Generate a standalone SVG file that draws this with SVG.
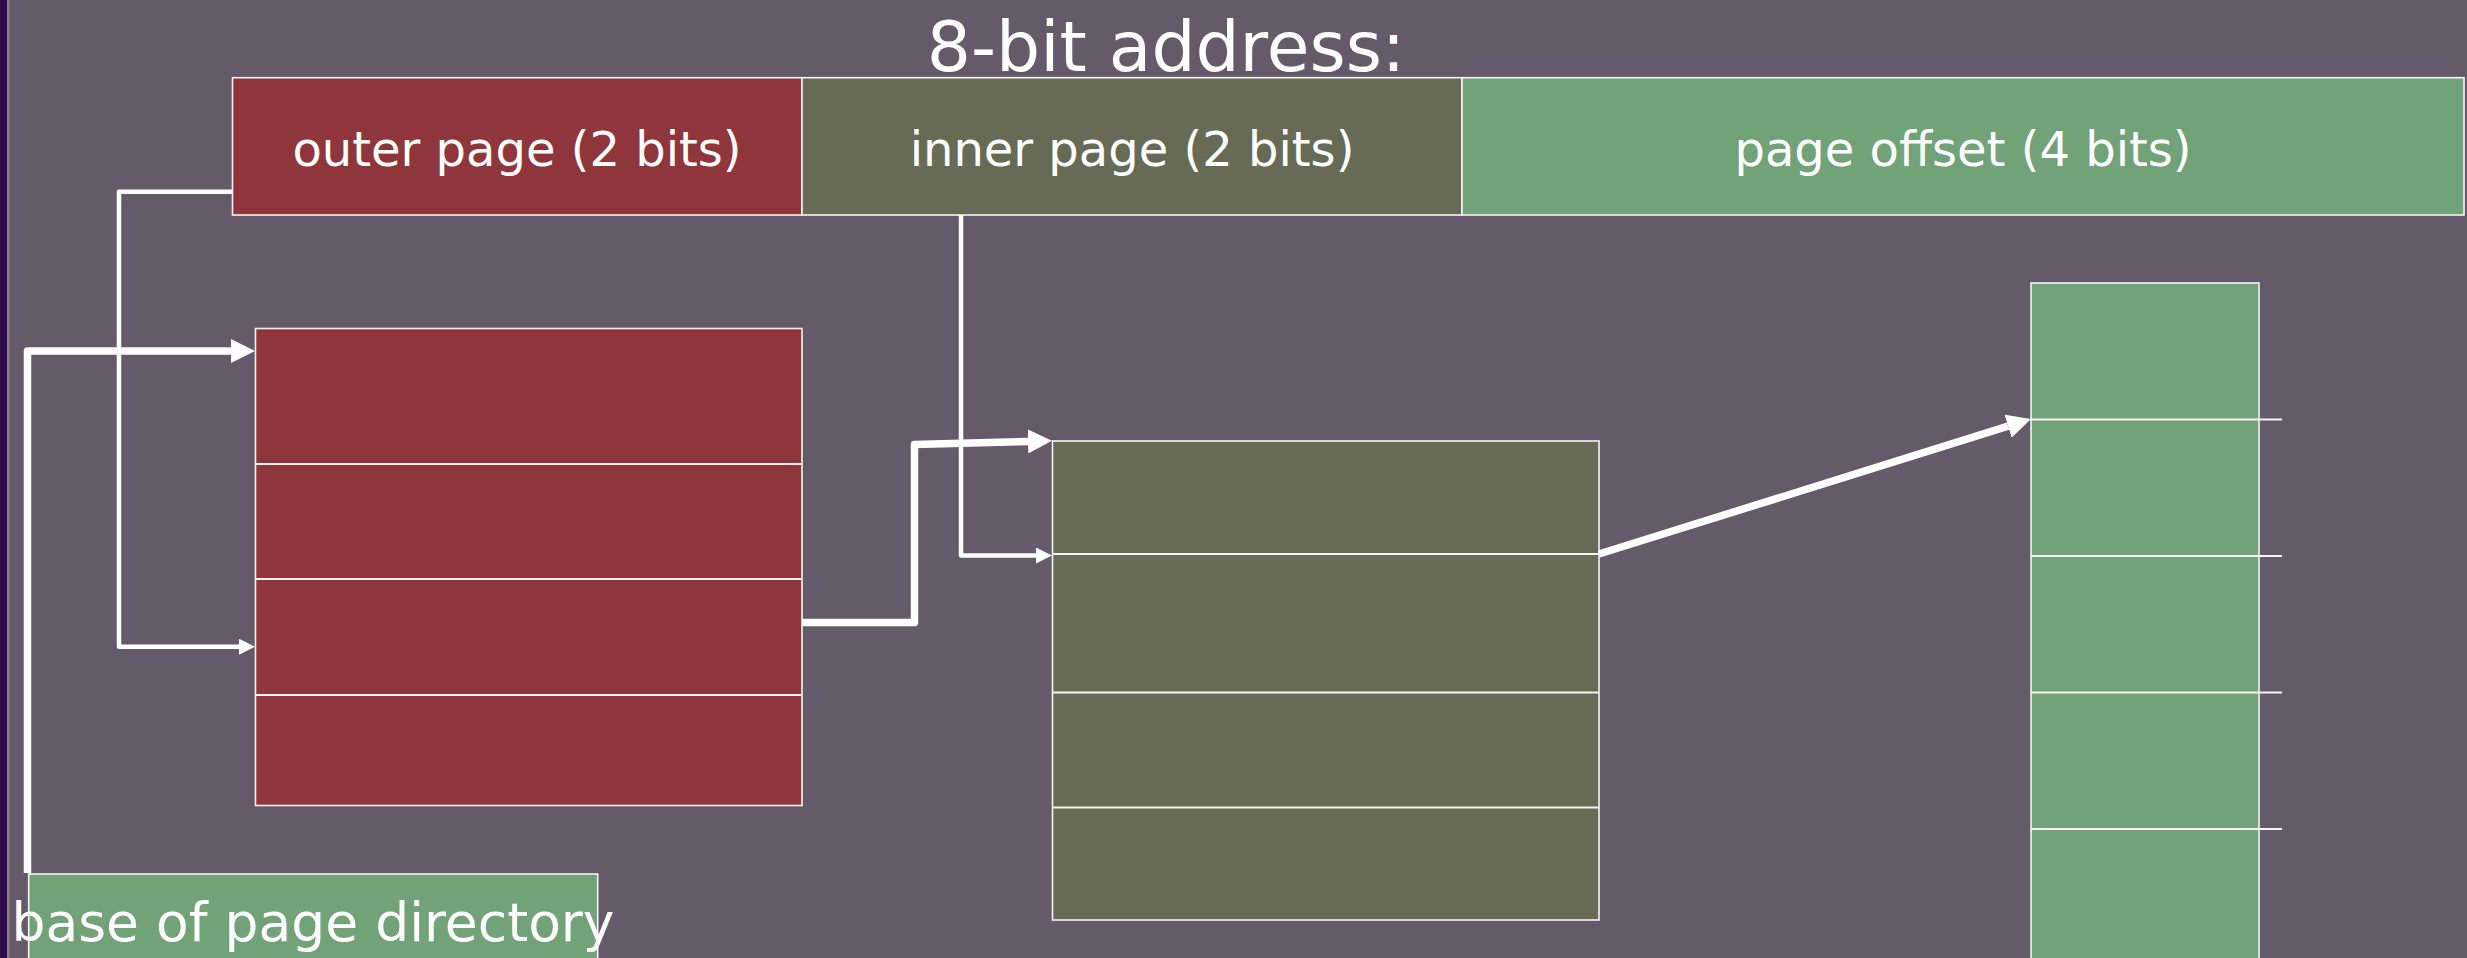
<svg xmlns="http://www.w3.org/2000/svg" width="2467" height="958" viewBox="0 0 2467 958">
<style>
.cell{stroke:#f4f4f4;stroke-width:1.6}
.red{fill:#8e363b}
.olive{fill:#676b55}
.green{fill:#72a278}
.div{stroke:#f4f4f4;stroke-width:1.8;fill:none}
.lbl{font-family:"DejaVu Sans",Verdana,sans-serif;fill:#ffffff;text-anchor:middle}
.thick{stroke:#ffffff;stroke-width:7.5;fill:none;stroke-linejoin:round}
.thin{stroke:#ffffff;stroke-width:4.5;fill:none;stroke-linejoin:round}
</style>
<defs>
<marker id="ahBig" markerUnits="userSpaceOnUse" markerWidth="24" markerHeight="24" viewBox="0 0 24 24" refX="0" refY="12" orient="auto">
<path d="M0,0 L24,12 L0,24 z" fill="#ffffff"/>
</marker>
<marker id="ahSmall" markerUnits="userSpaceOnUse" markerWidth="16" markerHeight="16" viewBox="0 0 16 16" refX="0" refY="8" orient="auto">
<path d="M0,0 L16,8 L0,16 z" fill="#ffffff"/>
</marker>
</defs>
<rect x="0" y="0" width="2467" height="958" fill="#655a6a"/>
<rect x="0" y="0" width="7" height="958" fill="#2d0b4b"/>
<rect x="7" y="0" width="2.5" height="958" fill="#857e89"/>

<text class="lbl" x="1166" y="71" font-size="69.5">8-bit address:</text>

<g id="address">
<rect class="cell red" x="232.5" y="77.7" width="569.5" height="137.3"/>
<rect class="cell olive" x="802" y="77.7" width="660" height="137.3"/>
<rect class="cell green" x="1462" y="77.7" width="1002" height="137.3"/>
<text class="lbl" x="517" y="166" font-size="48">outer page (2 bits)</text>
<text class="lbl" x="1132" y="166" font-size="48">inner page (2 bits)</text>
<text class="lbl" x="1963" y="166" font-size="48">page offset (4 bits)</text>
</g>

<g id="outer-table">
<rect class="cell red" x="255.5" y="328.5" width="546.5" height="477"/>
<path class="div" d="M255.5,464 H802 M255.5,579 H802 M255.5,695 H802"/>
</g>

<g id="inner-table">
<rect class="cell olive" x="1052.5" y="441" width="546.5" height="479"/>
<path class="div" d="M1052.5,554 H1599 M1052.5,692.5 H1599 M1052.5,807.5 H1599"/>
</g>

<g id="page-frame">
<rect class="cell green" x="2031" y="283" width="228" height="720"/>
<path class="div" d="M2031,419.5 H2282 M2031,556 H2282 M2031,692.5 H2282 M2031,829 H2282"/>
</g>

<g id="base">
<rect class="cell green" x="28.7" y="874" width="569" height="100"/>
<text class="lbl" x="313" y="941" font-size="53.5">base of page directory</text>
</g>

<g id="connectors">
<path class="thick" d="M27.5,873 L27.5,351 L231,351" marker-end="url(#ahBig)"/>
<path class="thin" d="M232,191.7 L119,191.7 L119,646.7 L239,646.7" marker-end="url(#ahSmall)"/>
<path class="thick" d="M802,622.5 L914.5,622.5 L914.5,444.5 L1028,441.4" marker-end="url(#ahBig)"/>
<path class="thin" d="M961,215 L961,555.5 L1036,555.5" marker-end="url(#ahSmall)"/>
<path class="thick" d="M1599,554 L2008.1,426.2" marker-end="url(#ahBig)"/>
</g>
</svg>
